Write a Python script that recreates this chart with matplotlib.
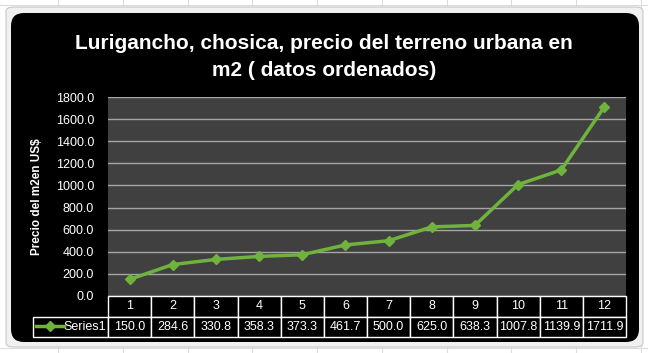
import matplotlib.pyplot as plt
import numpy as np
from matplotlib.patches import FancyBboxPatch
from matplotlib.lines import Line2D

plt.rcParams['font.family'] = ['Liberation Sans', 'DejaVu Sans']

categories = ['1', '2', '3', '4', '5', '6', '7', '8', '9', '10', '11', '12']
values = [150.0, 284.6, 330.8, 358.3, 373.3, 461.7, 500.0, 625.0, 638.3, 1007.8, 1139.9, 1711.9]
series_name = 'Series1'
title = 'Lurigancho, chosica, precio del terreno urbana en\nm2 ( datos ordenados)'
ylabel = 'Precio del m2en US$'

W, H = 648, 353
green = '#6fb33c'
fig = plt.figure(figsize=(W / 100, H / 100), dpi=100)
fig.patch.set_facecolor('white')

# faint spreadsheet grid behind the chart
for gx in [58, 123, 188, 252, 317, 382, 447, 511, 576, 641]:
    fig.add_artist(Line2D([gx / W, gx / W], [0, 1], color='#dcdcdc', lw=0.8, zorder=-3))
for gy in [5, 348]:
    fig.add_artist(Line2D([0, 1], [1 - gy / H, 1 - gy / H], color='#dcdcdc', lw=0.8, zorder=-3))

# chart frame
frame = FancyBboxPatch((6 / W, 1 - 347 / H), 637 / W, 340 / H,
                       boxstyle='round,pad=0,rounding_size=0.012',
                       transform=fig.transFigure, facecolor='#f0f0f0',
                       edgecolor='#c8c8c8', lw=0.8, zorder=-2)
fig.add_artist(frame)
chart = FancyBboxPatch((11 / W, 1 - 342 / H), 628 / W, 329 / H,
                       boxstyle='round,pad=0,rounding_size=0.02',
                       transform=fig.transFigure, facecolor='black',
                       edgecolor='none', mutation_aspect=W / H, zorder=-1)
fig.add_artist(chart)

left, right, top, bottom = 108, 626, 97, 296
ax = fig.add_axes([left / W, 1 - bottom / H, (right - left) / W, (bottom - top) / H])
ax.set_facecolor('#404040')
for s in ax.spines.values():
    s.set_visible(False)

x = np.arange(len(categories))
ax.plot(x, values, color=green, lw=2.5, marker='D', markersize=5.5,
        markerfacecolor=green, markeredgecolor=green, zorder=3)
ax.set_xlim(-0.5, len(categories) - 0.5)
ax.set_ylim(0, 1800)
ax.set_yticks(np.arange(0, 1801, 200))
ax.set_yticklabels([f'{v:.1f}' for v in np.arange(0, 1801, 200)], color='white', fontsize=9)
ax.tick_params(axis='y', length=0, pad=10)
ax.set_xticks([])
ax.grid(axis='y', color='#a6a6a6', lw=1)
ax.set_axisbelow(True)
ax.set_ylabel(ylabel, color='white', fontsize=8.5, fontweight='bold', labelpad=9)

fig.text(0.5, 1 - 57 / H, title, ha='center', va='center', color='white',
         fontsize=15, fontweight='bold', linespacing=1.55)

# data table
cell_text = [[''] + categories, [series_name] + [f'{v:.1f}' for v in values]]
first_w = 75
col_w = (right - left) / len(categories)
widths = [first_w] + [col_w] * len(categories)
tot = sum(widths)
tbl = ax.table(cellText=cell_text, colWidths=[w / tot for w in widths],
               bbox=[-first_w / (right - left), -41 / (bottom - top),
                     tot / (right - left), 41 / (bottom - top)],
               cellLoc='center')
tbl.auto_set_font_size(False)
tbl.set_fontsize(9)
for (r, c), cell in tbl.get_celld().items():
    cell.set_facecolor('black')
    cell.set_edgecolor('white')
    cell.set_linewidth(1)
    cell.get_text().set_color('white')
    if r == 0 and c == 0:
        cell.visible_edges = ''
    if r == 1 and c == 0:
        cell._loc = 'right'
        cell.PAD = 0.03
        cell.get_text().set_ha('right')

# legend key inside Series1 cell
ky = 1 - 326 / H
fig.add_artist(Line2D([36 / W, 64 / W], [ky, ky], color=green, lw=2.5, zorder=5))
fig.add_artist(Line2D([50 / W], [ky], color=green, marker='D', markersize=5.5,
                      lw=0, zorder=5))

fig.savefig('out.png', dpi=100, facecolor='white')
